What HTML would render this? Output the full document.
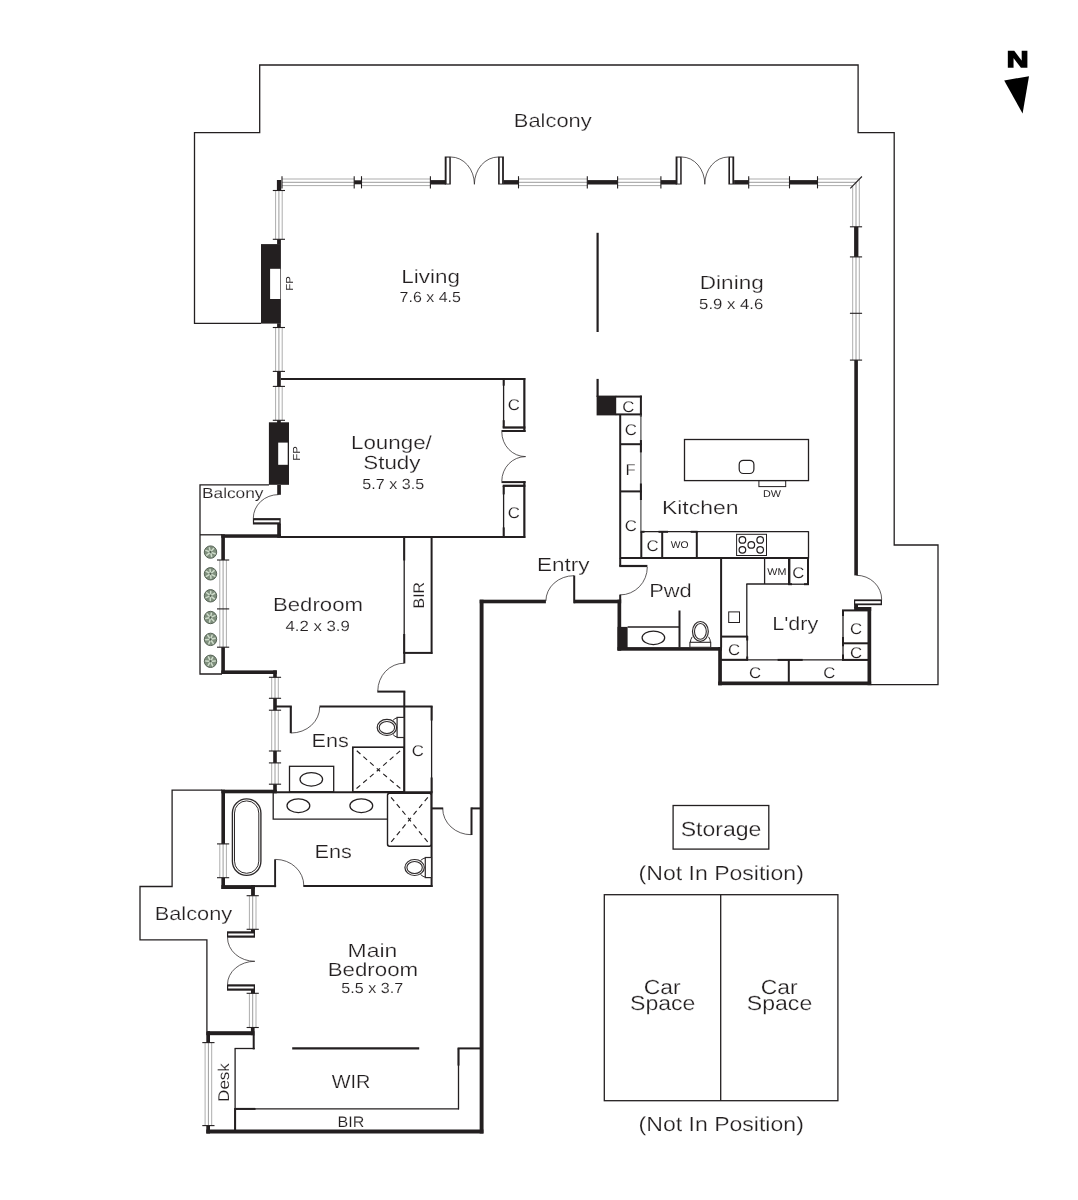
<!DOCTYPE html>
<html lang="en">
<head>
<meta charset="utf-8">
<title>Floor Plan</title>
<style>
html,body{margin:0;padding:0;background:#fff;}
body{width:1078px;height:1200px;overflow:hidden;}
svg{display:block;will-change:transform;}
svg text{font-family:"Liberation Sans",Arial,Helvetica,sans-serif;fill:#231f20;text-rendering:geometricPrecision;}
</style>
</head>
<body>
<svg width="1078" height="1200" viewBox="0 0 1078 1200">
<rect x="0" y="0" width="1078" height="1200" fill="#ffffff"/>
<polyline points="261,323.3 194.5,323.3 194.5,132.7 259.7,132.7 259.7,65 858.1,65 858.1,132.7 894.2,132.7 894.2,545 938,545 938,684.6 871,684.6" fill="none" stroke="#231f20" stroke-width="1.3" stroke-linejoin="miter"/>
<polyline points="269,484.8 200,484.8 200,674 222,674" fill="none" stroke="#231f20" stroke-width="1.3" stroke-linejoin="miter"/>
<line x1="200" y1="534.8" x2="222" y2="534.8" stroke="#231f20" stroke-width="1.3" stroke-linecap="butt"/>
<polyline points="222,790.2 172.1,790.2 172.1,886.5 140,886.5 140,939.8 206.9,939.8 206.9,1031" fill="none" stroke="#231f20" stroke-width="1.3" stroke-linejoin="miter"/>
<rect x="276.9" y="180" width="4.3" height="10.5" fill="#231f20"/>
<line x1="282" y1="179" x2="354.2" y2="179" stroke="#adadad" stroke-width="1" stroke-linecap="butt"/>
<line x1="282" y1="182.3" x2="354.2" y2="182.3" stroke="#9c9c9c" stroke-width="1" stroke-linecap="butt"/>
<line x1="282" y1="185.6" x2="354.2" y2="185.6" stroke="#adadad" stroke-width="1" stroke-linecap="butt"/>
<line x1="282" y1="176.2" x2="282" y2="188.4" stroke="#231f20" stroke-width="1.1" stroke-linecap="butt"/>
<line x1="354.2" y1="176.2" x2="354.2" y2="188.4" stroke="#231f20" stroke-width="1.1" stroke-linecap="butt"/>
<rect x="354.2" y="180.3" width="7.3" height="4" fill="#231f20"/>
<line x1="361.5" y1="179" x2="430.4" y2="179" stroke="#adadad" stroke-width="1" stroke-linecap="butt"/>
<line x1="361.5" y1="182.3" x2="430.4" y2="182.3" stroke="#9c9c9c" stroke-width="1" stroke-linecap="butt"/>
<line x1="361.5" y1="185.6" x2="430.4" y2="185.6" stroke="#adadad" stroke-width="1" stroke-linecap="butt"/>
<line x1="361.5" y1="176.2" x2="361.5" y2="188.4" stroke="#231f20" stroke-width="1.1" stroke-linecap="butt"/>
<line x1="430.4" y1="176.2" x2="430.4" y2="188.4" stroke="#231f20" stroke-width="1.1" stroke-linecap="butt"/>
<rect x="430.4" y="180.1" width="15.6" height="4.4" fill="#231f20"/>
<rect x="444.7" y="156.5" width="6.1" height="28" fill="#231f20"/>
<rect x="446.6" y="157.6" width="2.7" height="26" fill="#fff"/>
<path d="M450.8 157A23.6 27.3 0 0 1 474.4 184.3" fill="none" stroke="#2a2627" stroke-width="0.75"/>
<path d="M498.3 157A23.9 27.3 0 0 0 474.4 184.3" fill="none" stroke="#2a2627" stroke-width="0.75"/>
<rect x="498.1" y="156.5" width="5.8" height="28" fill="#231f20"/>
<rect x="499.7" y="157.6" width="2.4" height="26" fill="#fff"/>
<rect x="503.7" y="180.1" width="14.8" height="4.4" fill="#231f20"/>
<line x1="518.5" y1="179" x2="587.3" y2="179" stroke="#adadad" stroke-width="1" stroke-linecap="butt"/>
<line x1="518.5" y1="182.3" x2="587.3" y2="182.3" stroke="#9c9c9c" stroke-width="1" stroke-linecap="butt"/>
<line x1="518.5" y1="185.6" x2="587.3" y2="185.6" stroke="#adadad" stroke-width="1" stroke-linecap="butt"/>
<line x1="518.5" y1="176.2" x2="518.5" y2="188.4" stroke="#231f20" stroke-width="1.1" stroke-linecap="butt"/>
<line x1="587.3" y1="176.2" x2="587.3" y2="188.4" stroke="#231f20" stroke-width="1.1" stroke-linecap="butt"/>
<rect x="587.3" y="180.1" width="30.3" height="4.4" fill="#231f20"/>
<line x1="617.6" y1="179" x2="660.9" y2="179" stroke="#adadad" stroke-width="1" stroke-linecap="butt"/>
<line x1="617.6" y1="182.3" x2="660.9" y2="182.3" stroke="#9c9c9c" stroke-width="1" stroke-linecap="butt"/>
<line x1="617.6" y1="185.6" x2="660.9" y2="185.6" stroke="#adadad" stroke-width="1" stroke-linecap="butt"/>
<line x1="617.6" y1="176.2" x2="617.6" y2="188.4" stroke="#231f20" stroke-width="1.1" stroke-linecap="butt"/>
<line x1="660.9" y1="176.2" x2="660.9" y2="188.4" stroke="#231f20" stroke-width="1.1" stroke-linecap="butt"/>
<rect x="660.9" y="180.1" width="16.1" height="4.4" fill="#231f20"/>
<rect x="675.6" y="156.5" width="6.1" height="28" fill="#231f20"/>
<rect x="677.5" y="157.6" width="2.7" height="26" fill="#fff"/>
<path d="M681.7 157A23.1 27.3 0 0 1 704.8 184.3" fill="none" stroke="#2a2627" stroke-width="0.75"/>
<path d="M728.4 157A23.6 27.3 0 0 0 704.8 184.3" fill="none" stroke="#2a2627" stroke-width="0.75"/>
<rect x="728.4" y="156.5" width="5.8" height="28" fill="#231f20"/>
<rect x="730" y="157.6" width="2.4" height="26" fill="#fff"/>
<rect x="734.1" y="180.1" width="14.6" height="4.4" fill="#231f20"/>
<line x1="748.7" y1="179" x2="789.5" y2="179" stroke="#adadad" stroke-width="1" stroke-linecap="butt"/>
<line x1="748.7" y1="182.3" x2="789.5" y2="182.3" stroke="#9c9c9c" stroke-width="1" stroke-linecap="butt"/>
<line x1="748.7" y1="185.6" x2="789.5" y2="185.6" stroke="#adadad" stroke-width="1" stroke-linecap="butt"/>
<line x1="748.7" y1="176.2" x2="748.7" y2="188.4" stroke="#231f20" stroke-width="1.1" stroke-linecap="butt"/>
<line x1="789.5" y1="176.2" x2="789.5" y2="188.4" stroke="#231f20" stroke-width="1.1" stroke-linecap="butt"/>
<rect x="789.5" y="180.1" width="28" height="4.4" fill="#231f20"/>
<line x1="817.5" y1="179" x2="859.3" y2="179" stroke="#adadad" stroke-width="1" stroke-linecap="butt"/>
<line x1="817.5" y1="182.3" x2="856" y2="182.3" stroke="#9c9c9c" stroke-width="1" stroke-linecap="butt"/>
<line x1="817.5" y1="185.6" x2="852.7" y2="185.6" stroke="#adadad" stroke-width="1" stroke-linecap="butt"/>
<line x1="817.5" y1="176.2" x2="817.5" y2="188.4" stroke="#231f20" stroke-width="1.1" stroke-linecap="butt"/>
<line x1="859.3" y1="179" x2="859.3" y2="226.8" stroke="#adadad" stroke-width="1" stroke-linecap="butt"/>
<line x1="856" y1="182.3" x2="856" y2="226.8" stroke="#9c9c9c" stroke-width="1" stroke-linecap="butt"/>
<line x1="852.7" y1="185.6" x2="852.7" y2="226.8" stroke="#adadad" stroke-width="1" stroke-linecap="butt"/>
<line x1="850.3" y1="188.3" x2="861.9" y2="176.5" stroke="#231f20" stroke-width="1.1" stroke-linecap="butt"/>
<line x1="849.9" y1="226.8" x2="862.1" y2="226.8" stroke="#231f20" stroke-width="1.1" stroke-linecap="butt"/>
<rect x="854.1" y="226.8" width="4.3" height="30.1" fill="#231f20"/>
<line x1="852.7" y1="256.9" x2="852.7" y2="360.1" stroke="#adadad" stroke-width="1" stroke-linecap="butt"/>
<line x1="856" y1="256.9" x2="856" y2="360.1" stroke="#9c9c9c" stroke-width="1" stroke-linecap="butt"/>
<line x1="859.3" y1="256.9" x2="859.3" y2="360.1" stroke="#adadad" stroke-width="1" stroke-linecap="butt"/>
<line x1="849.9" y1="256.9" x2="862.1" y2="256.9" stroke="#231f20" stroke-width="1.1" stroke-linecap="butt"/>
<line x1="849.9" y1="360.1" x2="862.1" y2="360.1" stroke="#231f20" stroke-width="1.1" stroke-linecap="butt"/>
<line x1="849.9" y1="313.3" x2="862.1" y2="313.3" stroke="#231f20" stroke-width="1.1" stroke-linecap="butt"/>
<rect x="854.3" y="360.1" width="3.6" height="215.3" fill="#231f20"/>
<path d="M881.7 599.6A25.3 24.3 0 0 0 856.4 575.3" fill="none" stroke="#2a2627" stroke-width="0.75"/>
<rect x="854" y="599.4" width="28" height="5.8" fill="#231f20"/>
<rect x="855.2" y="601.15" width="25.5" height="2.3" fill="#fff"/>
<rect x="854.1" y="605" width="3.9" height="3" fill="#231f20"/>
<rect x="854.1" y="607" width="17.1" height="3.9" fill="#231f20"/>
<rect x="867.5" y="607" width="3.7" height="78.2" fill="#231f20"/>
<rect x="718.2" y="681.5" width="153" height="3.7" fill="#231f20"/>
<rect x="718.2" y="647.1" width="3.7" height="38.2" fill="#231f20"/>
<rect x="617.5" y="647.1" width="104.4" height="3.6" fill="#231f20"/>
<rect x="617.5" y="599.7" width="3.7" height="51" fill="#231f20"/>
<rect x="574.2" y="599.7" width="47" height="3.6" fill="#231f20"/>
<rect x="479.7" y="599.7" width="66.2" height="3.6" fill="#231f20"/>
<rect x="479.65" y="599.7" width="3.9" height="533.8" fill="#231f20"/>
<rect x="206.3" y="1129.5" width="277.1" height="4" fill="#231f20"/>
<rect x="206.3" y="1125.6" width="3.7" height="7.9" fill="#231f20"/>
<line x1="205.1" y1="1042.6" x2="205.1" y2="1125.6" stroke="#adadad" stroke-width="1" stroke-linecap="butt"/>
<line x1="208.4" y1="1042.6" x2="208.4" y2="1125.6" stroke="#9c9c9c" stroke-width="1" stroke-linecap="butt"/>
<line x1="211.7" y1="1042.6" x2="211.7" y2="1125.6" stroke="#adadad" stroke-width="1" stroke-linecap="butt"/>
<line x1="202.3" y1="1042.6" x2="214.5" y2="1042.6" stroke="#231f20" stroke-width="1.1" stroke-linecap="butt"/>
<line x1="202.3" y1="1125.6" x2="214.5" y2="1125.6" stroke="#231f20" stroke-width="1.1" stroke-linecap="butt"/>
<rect x="206.3" y="1031.2" width="3.7" height="11.4" fill="#231f20"/>
<rect x="206.3" y="1031.2" width="48.2" height="4" fill="#231f20"/>
<rect x="250.9" y="1027.5" width="3.7" height="7.7" fill="#231f20"/>
<line x1="249.4" y1="993.3" x2="249.4" y2="1027.5" stroke="#adadad" stroke-width="1" stroke-linecap="butt"/>
<line x1="252.7" y1="993.3" x2="252.7" y2="1027.5" stroke="#9c9c9c" stroke-width="1" stroke-linecap="butt"/>
<line x1="256" y1="993.3" x2="256" y2="1027.5" stroke="#adadad" stroke-width="1" stroke-linecap="butt"/>
<line x1="246.6" y1="993.3" x2="258.8" y2="993.3" stroke="#231f20" stroke-width="1.1" stroke-linecap="butt"/>
<line x1="246.6" y1="1027.5" x2="258.8" y2="1027.5" stroke="#231f20" stroke-width="1.1" stroke-linecap="butt"/>
<rect x="251" y="989" width="4" height="4.4" fill="#231f20"/>
<rect x="227" y="984.3" width="28" height="6.4" fill="#231f20"/>
<rect x="228.2" y="986.5" width="25.5" height="2" fill="#fff"/>
<path d="M227.5 984.5A27.3 23.2 0 0 1 254.8 961.3" fill="none" stroke="#2a2627" stroke-width="0.75"/>
<path d="M227.5 937.5A27.3 23.8 0 0 0 254.8 961.3" fill="none" stroke="#2a2627" stroke-width="0.75"/>
<rect x="227" y="931.3" width="28" height="6.4" fill="#231f20"/>
<rect x="228.2" y="933.5" width="25.5" height="2" fill="#fff"/>
<rect x="251" y="929.3" width="4" height="3.2" fill="#231f20"/>
<line x1="249.4" y1="895.7" x2="249.4" y2="929.3" stroke="#adadad" stroke-width="1" stroke-linecap="butt"/>
<line x1="252.7" y1="895.7" x2="252.7" y2="929.3" stroke="#9c9c9c" stroke-width="1" stroke-linecap="butt"/>
<line x1="256" y1="895.7" x2="256" y2="929.3" stroke="#adadad" stroke-width="1" stroke-linecap="butt"/>
<line x1="246.6" y1="895.7" x2="258.8" y2="895.7" stroke="#231f20" stroke-width="1.1" stroke-linecap="butt"/>
<line x1="246.6" y1="929.3" x2="258.8" y2="929.3" stroke="#231f20" stroke-width="1.1" stroke-linecap="butt"/>
<rect x="251.1" y="885.1" width="3.8" height="10.7" fill="#231f20"/>
<rect x="221.4" y="885.1" width="33.5" height="3.9" fill="#231f20"/>
<line x1="254" y1="886.1" x2="276.1" y2="886.1" stroke="#231f20" stroke-width="2" stroke-linecap="butt"/>
<rect x="221.4" y="877.8" width="3.6" height="11.2" fill="#231f20"/>
<line x1="219.8" y1="843.9" x2="219.8" y2="877.7" stroke="#adadad" stroke-width="1" stroke-linecap="butt"/>
<line x1="223.1" y1="843.9" x2="223.1" y2="877.7" stroke="#9c9c9c" stroke-width="1" stroke-linecap="butt"/>
<line x1="226.4" y1="843.9" x2="226.4" y2="877.7" stroke="#adadad" stroke-width="1" stroke-linecap="butt"/>
<line x1="217" y1="843.9" x2="229.2" y2="843.9" stroke="#231f20" stroke-width="1.1" stroke-linecap="butt"/>
<line x1="217" y1="877.7" x2="229.2" y2="877.7" stroke="#231f20" stroke-width="1.1" stroke-linecap="butt"/>
<rect x="221.4" y="789.7" width="3.6" height="54.2" fill="#231f20"/>
<rect x="221.4" y="789.7" width="55.4" height="3.6" fill="#231f20"/>
<rect x="273.2" y="784.2" width="3.6" height="9.1" fill="#231f20"/>
<line x1="271.7" y1="762.9" x2="271.7" y2="784.2" stroke="#adadad" stroke-width="1" stroke-linecap="butt"/>
<line x1="275" y1="762.9" x2="275" y2="784.2" stroke="#9c9c9c" stroke-width="1" stroke-linecap="butt"/>
<line x1="278.3" y1="762.9" x2="278.3" y2="784.2" stroke="#adadad" stroke-width="1" stroke-linecap="butt"/>
<line x1="268.9" y1="762.9" x2="281.1" y2="762.9" stroke="#231f20" stroke-width="1.1" stroke-linecap="butt"/>
<line x1="268.9" y1="784.2" x2="281.1" y2="784.2" stroke="#231f20" stroke-width="1.1" stroke-linecap="butt"/>
<rect x="273.2" y="751" width="3.6" height="11.9" fill="#231f20"/>
<line x1="271.7" y1="710.2" x2="271.7" y2="751" stroke="#adadad" stroke-width="1" stroke-linecap="butt"/>
<line x1="275" y1="710.2" x2="275" y2="751" stroke="#9c9c9c" stroke-width="1" stroke-linecap="butt"/>
<line x1="278.3" y1="710.2" x2="278.3" y2="751" stroke="#adadad" stroke-width="1" stroke-linecap="butt"/>
<line x1="268.9" y1="710.2" x2="281.1" y2="710.2" stroke="#231f20" stroke-width="1.1" stroke-linecap="butt"/>
<line x1="268.9" y1="751" x2="281.1" y2="751" stroke="#231f20" stroke-width="1.1" stroke-linecap="butt"/>
<rect x="273.2" y="698.3" width="3.6" height="11.9" fill="#231f20"/>
<line x1="271.7" y1="677.3" x2="271.7" y2="698.3" stroke="#adadad" stroke-width="1" stroke-linecap="butt"/>
<line x1="275" y1="677.3" x2="275" y2="698.3" stroke="#9c9c9c" stroke-width="1" stroke-linecap="butt"/>
<line x1="278.3" y1="677.3" x2="278.3" y2="698.3" stroke="#adadad" stroke-width="1" stroke-linecap="butt"/>
<line x1="268.9" y1="677.3" x2="281.1" y2="677.3" stroke="#231f20" stroke-width="1.1" stroke-linecap="butt"/>
<line x1="268.9" y1="698.3" x2="281.1" y2="698.3" stroke="#231f20" stroke-width="1.1" stroke-linecap="butt"/>
<rect x="273.2" y="670.4" width="3.6" height="6.9" fill="#231f20"/>
<rect x="221.3" y="670.4" width="55.5" height="3.6" fill="#231f20"/>
<rect x="221.3" y="647.2" width="3.6" height="26.8" fill="#231f20"/>
<line x1="219.8" y1="560" x2="219.8" y2="647.2" stroke="#adadad" stroke-width="1" stroke-linecap="butt"/>
<line x1="223.1" y1="560" x2="223.1" y2="647.2" stroke="#9c9c9c" stroke-width="1" stroke-linecap="butt"/>
<line x1="226.4" y1="560" x2="226.4" y2="647.2" stroke="#adadad" stroke-width="1" stroke-linecap="butt"/>
<line x1="217" y1="560" x2="229.2" y2="560" stroke="#231f20" stroke-width="1.1" stroke-linecap="butt"/>
<line x1="217" y1="647.2" x2="229.2" y2="647.2" stroke="#231f20" stroke-width="1.1" stroke-linecap="butt"/>
<line x1="217" y1="608.9" x2="229.2" y2="608.9" stroke="#231f20" stroke-width="1.1" stroke-linecap="butt"/>
<rect x="221.3" y="534.3" width="3.6" height="25.7" fill="#231f20"/>
<rect x="221.3" y="534.3" width="59.7" height="3.5" fill="#231f20"/>
<rect x="277.2" y="523.6" width="3.7" height="14.2" fill="#231f20"/>
<rect x="252.9" y="518.1" width="27.8" height="6.4" fill="#231f20"/>
<rect x="254.1" y="520.3" width="25.3" height="2" fill="#fff"/>
<path d="M253.3 518.2A25.3 23.6 0 0 1 278.6 494.6" fill="none" stroke="#2a2627" stroke-width="0.75"/>
<rect x="277.2" y="484.8" width="3.7" height="10" fill="#231f20"/>
<rect x="268.9" y="422.3" width="20.1" height="62.5" fill="#231f20"/>
<rect x="278.2" y="442.6" width="9.5" height="22.2" fill="#fff"/>
<rect x="277.1" y="420.3" width="3.7" height="2.7" fill="#231f20"/>
<line x1="275.6" y1="386.4" x2="275.6" y2="420.3" stroke="#adadad" stroke-width="1" stroke-linecap="butt"/>
<line x1="278.9" y1="386.4" x2="278.9" y2="420.3" stroke="#9c9c9c" stroke-width="1" stroke-linecap="butt"/>
<line x1="282.2" y1="386.4" x2="282.2" y2="420.3" stroke="#adadad" stroke-width="1" stroke-linecap="butt"/>
<line x1="272.8" y1="386.4" x2="285" y2="386.4" stroke="#231f20" stroke-width="1.1" stroke-linecap="butt"/>
<line x1="272.8" y1="420.3" x2="285" y2="420.3" stroke="#231f20" stroke-width="1.1" stroke-linecap="butt"/>
<rect x="277.1" y="371.4" width="3.7" height="15" fill="#231f20"/>
<line x1="275.6" y1="327.5" x2="275.6" y2="371.4" stroke="#adadad" stroke-width="1" stroke-linecap="butt"/>
<line x1="278.9" y1="327.5" x2="278.9" y2="371.4" stroke="#9c9c9c" stroke-width="1" stroke-linecap="butt"/>
<line x1="282.2" y1="327.5" x2="282.2" y2="371.4" stroke="#adadad" stroke-width="1" stroke-linecap="butt"/>
<line x1="272.8" y1="327.5" x2="285" y2="327.5" stroke="#231f20" stroke-width="1.1" stroke-linecap="butt"/>
<line x1="272.8" y1="371.4" x2="285" y2="371.4" stroke="#231f20" stroke-width="1.1" stroke-linecap="butt"/>
<rect x="277.1" y="323.3" width="3.7" height="4.2" fill="#231f20"/>
<rect x="261" y="244.1" width="19.9" height="79.5" fill="#231f20"/>
<rect x="270.1" y="268.8" width="10.2" height="30.2" fill="#fff"/>
<rect x="277.1" y="239.3" width="3.8" height="5.2" fill="#231f20"/>
<line x1="275.6" y1="190.5" x2="275.6" y2="239.3" stroke="#adadad" stroke-width="1" stroke-linecap="butt"/>
<line x1="278.9" y1="190.5" x2="278.9" y2="239.3" stroke="#9c9c9c" stroke-width="1" stroke-linecap="butt"/>
<line x1="282.2" y1="190.5" x2="282.2" y2="239.3" stroke="#adadad" stroke-width="1" stroke-linecap="butt"/>
<line x1="272.8" y1="190.5" x2="285" y2="190.5" stroke="#231f20" stroke-width="1.1" stroke-linecap="butt"/>
<line x1="272.8" y1="239.3" x2="285" y2="239.3" stroke="#231f20" stroke-width="1.1" stroke-linecap="butt"/>
<line x1="597.6" y1="232.8" x2="597.6" y2="332" stroke="#231f20" stroke-width="2.2" stroke-linecap="butt"/>
<line x1="597.6" y1="378.9" x2="597.6" y2="397" stroke="#231f20" stroke-width="2.2" stroke-linecap="butt"/>
<rect x="596.6" y="395.6" width="19.6" height="19.8" fill="#231f20"/>
<line x1="280.8" y1="378.9" x2="525.3" y2="378.9" stroke="#231f20" stroke-width="2" stroke-linecap="butt"/>
<line x1="280.8" y1="536.9" x2="525.3" y2="536.9" stroke="#231f20" stroke-width="2" stroke-linecap="butt"/>
<line x1="524.35" y1="378" x2="524.35" y2="432" stroke="#231f20" stroke-width="2.2" stroke-linecap="butt"/>
<line x1="503.6" y1="378.9" x2="503.6" y2="427.5" stroke="#231f20" stroke-width="1.3" stroke-linecap="butt"/>
<line x1="503.7" y1="378.9" x2="503.7" y2="385.7" stroke="#231f20" stroke-width="2" stroke-linecap="butt"/>
<line x1="503.7" y1="420.2" x2="503.7" y2="427.7" stroke="#231f20" stroke-width="2" stroke-linecap="butt"/>
<line x1="502.7" y1="427.5" x2="525.4" y2="427.5" stroke="#231f20" stroke-width="2.3" stroke-linecap="butt"/>
<line x1="501.5" y1="431" x2="525.6" y2="431" stroke="#231f20" stroke-width="2" stroke-linecap="butt"/>
<path d="M501.8 431.9A23.8 24.7 0 0 0 525.6 456.6" fill="none" stroke="#2a2627" stroke-width="0.75"/>
<path d="M501.8 481.2A23.8 24.6 0 0 1 525.6 456.6" fill="none" stroke="#2a2627" stroke-width="0.75"/>
<line x1="501.5" y1="482.1" x2="525.6" y2="482.1" stroke="#231f20" stroke-width="2" stroke-linecap="butt"/>
<line x1="502.7" y1="485.8" x2="525.4" y2="485.8" stroke="#231f20" stroke-width="2.3" stroke-linecap="butt"/>
<line x1="524.35" y1="481.1" x2="524.35" y2="537.9" stroke="#231f20" stroke-width="2.2" stroke-linecap="butt"/>
<line x1="503.6" y1="485.8" x2="503.6" y2="537" stroke="#231f20" stroke-width="1.3" stroke-linecap="butt"/>
<line x1="503.7" y1="485.8" x2="503.7" y2="494.4" stroke="#231f20" stroke-width="2" stroke-linecap="butt"/>
<line x1="503.7" y1="527.4" x2="503.7" y2="537" stroke="#231f20" stroke-width="2" stroke-linecap="butt"/>
<line x1="404.2" y1="536.9" x2="404.2" y2="653" stroke="#231f20" stroke-width="1.3" stroke-linecap="butt"/>
<line x1="404.2" y1="536.9" x2="404.2" y2="560.5" stroke="#231f20" stroke-width="2" stroke-linecap="butt"/>
<line x1="404.2" y1="634" x2="404.2" y2="653" stroke="#231f20" stroke-width="2" stroke-linecap="butt"/>
<line x1="431.6" y1="536" x2="431.6" y2="653.9" stroke="#231f20" stroke-width="2" stroke-linecap="butt"/>
<line x1="403.2" y1="652.9" x2="432.4" y2="652.9" stroke="#231f20" stroke-width="2" stroke-linecap="butt"/>
<line x1="404.3" y1="652.9" x2="404.3" y2="663.4" stroke="#231f20" stroke-width="2" stroke-linecap="butt"/>
<path d="M377.8 691A26.5 27.8 0 0 1 404.3 663.2" fill="none" stroke="#2a2627" stroke-width="0.75"/>
<line x1="377.3" y1="691.6" x2="405.3" y2="691.6" stroke="#231f20" stroke-width="2" stroke-linecap="butt"/>
<line x1="404.3" y1="691.6" x2="404.3" y2="792.3" stroke="#231f20" stroke-width="2" stroke-linecap="butt"/>
<line x1="275" y1="706.5" x2="291.8" y2="706.5" stroke="#231f20" stroke-width="2" stroke-linecap="butt"/>
<line x1="290.8" y1="706.5" x2="290.8" y2="733.2" stroke="#231f20" stroke-width="2.1" stroke-linecap="butt"/>
<path d="M291.2 733A28.5 26 0 0 0 319.7 707" fill="none" stroke="#2a2627" stroke-width="0.75"/>
<line x1="319.5" y1="706.5" x2="432.6" y2="706.5" stroke="#231f20" stroke-width="2" stroke-linecap="butt"/>
<line x1="431.6" y1="706.3" x2="431.6" y2="792.3" stroke="#231f20" stroke-width="1.3" stroke-linecap="butt"/>
<line x1="431.6" y1="706.3" x2="431.6" y2="720.5" stroke="#231f20" stroke-width="2" stroke-linecap="butt"/>
<line x1="431.6" y1="777.5" x2="431.6" y2="792.3" stroke="#231f20" stroke-width="2" stroke-linecap="butt"/>
<line x1="276.8" y1="792.3" x2="432.6" y2="792.3" stroke="#231f20" stroke-width="2" stroke-linecap="butt"/>
<line x1="431.6" y1="792.3" x2="431.6" y2="887" stroke="#231f20" stroke-width="2" stroke-linecap="butt"/>
<line x1="303.3" y1="886.1" x2="432.6" y2="886.1" stroke="#231f20" stroke-width="2" stroke-linecap="butt"/>
<line x1="275.1" y1="859.3" x2="275.1" y2="887.1" stroke="#231f20" stroke-width="1.9" stroke-linecap="butt"/>
<path d="M275.6 859.4A28.2 26.2 0 0 1 303.8 885.6" fill="none" stroke="#2a2627" stroke-width="0.75"/>
<line x1="431.6" y1="808.4" x2="443.2" y2="808.4" stroke="#231f20" stroke-width="2" stroke-linecap="butt"/>
<path d="M471.2 834.7A28.5 26.3 0 0 1 442.7 808.4" fill="none" stroke="#2a2627" stroke-width="0.75"/>
<line x1="471.5" y1="807.4" x2="471.5" y2="835" stroke="#231f20" stroke-width="2" stroke-linecap="butt"/>
<line x1="471.5" y1="808.4" x2="480" y2="808.4" stroke="#231f20" stroke-width="2" stroke-linecap="butt"/>
<line x1="292.2" y1="1048.4" x2="419.2" y2="1048.4" stroke="#231f20" stroke-width="2.2" stroke-linecap="butt"/>
<line x1="457.6" y1="1048.4" x2="480" y2="1048.4" stroke="#231f20" stroke-width="2" stroke-linecap="butt"/>
<line x1="458.5" y1="1048.4" x2="458.5" y2="1109.4" stroke="#231f20" stroke-width="1.3" stroke-linecap="butt"/>
<line x1="458.5" y1="1048.4" x2="458.5" y2="1065.6" stroke="#231f20" stroke-width="2" stroke-linecap="butt"/>
<line x1="235.1" y1="1108.9" x2="459" y2="1108.9" stroke="#231f20" stroke-width="1.3" stroke-linecap="butt"/>
<line x1="235.1" y1="1108.9" x2="255.5" y2="1108.9" stroke="#231f20" stroke-width="2" stroke-linecap="butt"/>
<line x1="253.7" y1="1035" x2="253.7" y2="1049.4" stroke="#231f20" stroke-width="2" stroke-linecap="butt"/>
<line x1="234.6" y1="1048.5" x2="254.7" y2="1048.5" stroke="#231f20" stroke-width="1.3" stroke-linecap="butt"/>
<line x1="235.1" y1="1048.5" x2="235.1" y2="1130" stroke="#231f20" stroke-width="1.3" stroke-linecap="butt"/>
<line x1="235.1" y1="1108" x2="235.1" y2="1130" stroke="#231f20" stroke-width="2" stroke-linecap="butt"/>
<line x1="615.8" y1="396.6" x2="641.9" y2="396.6" stroke="#231f20" stroke-width="2" stroke-linecap="butt"/>
<line x1="640.9" y1="395.6" x2="640.9" y2="416.7" stroke="#231f20" stroke-width="2" stroke-linecap="butt"/>
<line x1="615.8" y1="414.4" x2="641.9" y2="414.4" stroke="#231f20" stroke-width="2" stroke-linecap="butt"/>
<line x1="620.2" y1="414.4" x2="620.2" y2="558.5" stroke="#231f20" stroke-width="2" stroke-linecap="butt"/>
<line x1="620" y1="444.2" x2="641.9" y2="444.2" stroke="#231f20" stroke-width="2" stroke-linecap="butt"/>
<line x1="620" y1="491.4" x2="641.9" y2="491.4" stroke="#231f20" stroke-width="2" stroke-linecap="butt"/>
<line x1="640.9" y1="414.7" x2="640.9" y2="531.7" stroke="#555" stroke-width="1.3" stroke-linecap="butt"/>
<line x1="640.9" y1="440" x2="640.9" y2="452.4" stroke="#231f20" stroke-width="2" stroke-linecap="butt"/>
<line x1="640.9" y1="483.5" x2="640.9" y2="500" stroke="#231f20" stroke-width="2" stroke-linecap="butt"/>
<line x1="641" y1="531.7" x2="808.5" y2="531.7" stroke="#231f20" stroke-width="1.3" stroke-linecap="butt"/>
<line x1="808.5" y1="531.2" x2="808.5" y2="558.5" stroke="#231f20" stroke-width="1.3" stroke-linecap="butt"/>
<line x1="620" y1="558.1" x2="809" y2="558.1" stroke="#231f20" stroke-width="2" stroke-linecap="butt"/>
<line x1="641.3" y1="531.7" x2="641.3" y2="558.1" stroke="#231f20" stroke-width="2" stroke-linecap="butt"/>
<line x1="662.2" y1="531.7" x2="662.2" y2="558.1" stroke="#231f20" stroke-width="2" stroke-linecap="butt"/>
<line x1="696.8" y1="531.7" x2="696.8" y2="558.1" stroke="#231f20" stroke-width="2" stroke-linecap="butt"/>
<line x1="640.5" y1="531.8" x2="644.5" y2="531.8" stroke="#231f20" stroke-width="2" stroke-linecap="butt"/>
<line x1="658.5" y1="531.8" x2="668" y2="531.8" stroke="#231f20" stroke-width="2" stroke-linecap="butt"/>
<line x1="690.7" y1="531.8" x2="697.6" y2="531.8" stroke="#231f20" stroke-width="2" stroke-linecap="butt"/>
<rect x="736.6" y="534.3" width="29.9" height="21.2" fill="#fff" stroke="#231f20" stroke-width="1"/>
<ellipse cx="742.4" cy="539.9" rx="3.3" ry="3.3" fill="none" stroke="#231f20" stroke-width="1.25"/>
<ellipse cx="760.2" cy="539.9" rx="3.3" ry="3.3" fill="none" stroke="#231f20" stroke-width="1.25"/>
<ellipse cx="751.3" cy="544.9" rx="3.3" ry="3.3" fill="none" stroke="#231f20" stroke-width="1.25"/>
<ellipse cx="742.4" cy="549.8" rx="3.3" ry="3.3" fill="none" stroke="#231f20" stroke-width="1.25"/>
<ellipse cx="760.2" cy="549.8" rx="3.3" ry="3.3" fill="none" stroke="#231f20" stroke-width="1.25"/>
<rect x="684.5" y="439.5" width="124" height="41.1" fill="none" stroke="#231f20" stroke-width="1.3"/>
<rect x="739.2" y="460.3" width="14.7" height="13.2" fill="none" stroke="#231f20" stroke-width="1.2" rx="4.2"/>
<rect x="758.9" y="480.6" width="26.8" height="6" fill="none" stroke="#231f20" stroke-width="1"/>
<line x1="620.2" y1="558" x2="620.2" y2="566" stroke="#231f20" stroke-width="2" stroke-linecap="butt"/>
<line x1="619.2" y1="566" x2="647.4" y2="566" stroke="#231f20" stroke-width="2.2" stroke-linecap="butt"/>
<path d="M647.3 567A27.1 27.9 0 0 1 620.2 594.9" fill="none" stroke="#2a2627" stroke-width="0.75"/>
<line x1="620.2" y1="594.6" x2="620.2" y2="600" stroke="#231f20" stroke-width="2" stroke-linecap="butt"/>
<rect x="617.5" y="626.9" width="10.1" height="23.1" fill="#231f20"/>
<line x1="627.6" y1="627.1" x2="679" y2="627.1" stroke="#231f20" stroke-width="1.5" stroke-linecap="butt"/>
<ellipse cx="653.4" cy="637.8" rx="11.3" ry="6.7" fill="none" stroke="#231f20" stroke-width="1.25"/>
<line x1="679.5" y1="610.5" x2="679.5" y2="647.5" stroke="#231f20" stroke-width="2" stroke-linecap="butt"/>
<line x1="721.1" y1="558" x2="721.1" y2="647.5" stroke="#231f20" stroke-width="2" stroke-linecap="butt"/>
<path d="M692.2 636.8Q690.2 640 690.4 642.3M708.6 636.8Q710.6 640 710.4 642.3" fill="none" stroke="#2e2a2b" stroke-width="1"/>
<rect x="689.9" y="642.3" width="20.8" height="5" fill="#fff" stroke="#2e2a2b" stroke-width="1.1"/>
<ellipse cx="700.4" cy="631.4" rx="7.9" ry="9.9" fill="#fff" stroke="#2e2a2b" stroke-width="1.2"/>
<ellipse cx="700.4" cy="631.4" rx="5.9" ry="7.9" fill="none" stroke="#2e2a2b" stroke-width="1.1"/>
<line x1="764.6" y1="558" x2="764.6" y2="584" stroke="#231f20" stroke-width="1.3" stroke-linecap="butt"/>
<line x1="746.3" y1="584" x2="789" y2="584" stroke="#231f20" stroke-width="1.3" stroke-linecap="butt"/>
<line x1="746.8" y1="584" x2="746.8" y2="637" stroke="#231f20" stroke-width="1.3" stroke-linecap="butt"/>
<rect x="728.7" y="611.9" width="10.8" height="10.6" fill="none" stroke="#231f20" stroke-width="1"/>
<line x1="721" y1="636.6" x2="748" y2="636.6" stroke="#231f20" stroke-width="2" stroke-linecap="butt"/>
<line x1="747.2" y1="636.6" x2="747.2" y2="660" stroke="#231f20" stroke-width="1.3" stroke-linecap="butt"/>
<line x1="747.2" y1="636" x2="747.2" y2="640.5" stroke="#231f20" stroke-width="2" stroke-linecap="butt"/>
<line x1="747.2" y1="656.5" x2="747.2" y2="660.5" stroke="#231f20" stroke-width="2" stroke-linecap="butt"/>
<line x1="721" y1="659.8" x2="748" y2="659.8" stroke="#231f20" stroke-width="2" stroke-linecap="butt"/>
<line x1="789.2" y1="558" x2="789.2" y2="585" stroke="#231f20" stroke-width="2.4" stroke-linecap="butt"/>
<line x1="788.2" y1="584.2" x2="808.9" y2="584.2" stroke="#231f20" stroke-width="1.3" stroke-linecap="butt"/>
<line x1="788.2" y1="584.2" x2="792" y2="584.2" stroke="#231f20" stroke-width="2" stroke-linecap="butt"/>
<line x1="804" y1="584.2" x2="808.9" y2="584.2" stroke="#231f20" stroke-width="2" stroke-linecap="butt"/>
<line x1="808" y1="558" x2="808" y2="585" stroke="#231f20" stroke-width="2" stroke-linecap="butt"/>
<line x1="721" y1="659.9" x2="868" y2="659.9" stroke="#231f20" stroke-width="1.3" stroke-linecap="butt"/>
<line x1="777.6" y1="659.9" x2="802.7" y2="659.9" stroke="#231f20" stroke-width="2" stroke-linecap="butt"/>
<line x1="788.8" y1="659.9" x2="788.8" y2="682" stroke="#231f20" stroke-width="2" stroke-linecap="butt"/>
<line x1="843" y1="610.4" x2="843" y2="660.3" stroke="#231f20" stroke-width="1.3" stroke-linecap="butt"/>
<line x1="843" y1="610.4" x2="843" y2="616" stroke="#231f20" stroke-width="2" stroke-linecap="butt"/>
<line x1="843" y1="637" x2="843" y2="646.3" stroke="#231f20" stroke-width="2" stroke-linecap="butt"/>
<line x1="843" y1="654.5" x2="843" y2="660.3" stroke="#231f20" stroke-width="2" stroke-linecap="butt"/>
<line x1="842" y1="610.4" x2="868" y2="610.4" stroke="#231f20" stroke-width="2" stroke-linecap="butt"/>
<line x1="842" y1="643.3" x2="868" y2="643.3" stroke="#231f20" stroke-width="2" stroke-linecap="butt"/>
<line x1="842" y1="659.9" x2="868" y2="659.9" stroke="#231f20" stroke-width="2" stroke-linecap="butt"/>
<line x1="574.2" y1="575.5" x2="574.2" y2="603.3" stroke="#231f20" stroke-width="2" stroke-linecap="butt"/>
<path d="M574 575.7A28.1 25.3 0 0 0 545.9 601" fill="none" stroke="#2a2627" stroke-width="0.75"/>
<circle cx="210.5" cy="552.1" r="6.2" fill="#7f8f7d" stroke="#566355" stroke-width="1"/>
<path d="M212 552.65L215.1 553.78M211.02 554.03L211.69 556.54M209.35 553.06L206.82 555.19M208.81 551.48L205.9 550.42M209.98 550.17L209.36 547.85M211.53 550.87L213.59 548.42" stroke="#cfdccb" stroke-width="1.5" stroke-linecap="round" fill="none"/>
<circle cx="210.5" cy="552.1" r="1" fill="#4f5b4e"/>
<circle cx="210.5" cy="573.8" r="6.2" fill="#7f8f7d" stroke="#566355" stroke-width="1"/>
<path d="M211.9 574.58L214.79 576.18M210.71 575.79L210.98 578.37M209.21 574.57L206.39 576.27M208.93 572.93L206.21 571.42M210.29 571.81L210.04 569.42M211.71 572.75L214.12 570.65" stroke="#cfdccb" stroke-width="1.5" stroke-linecap="round" fill="none"/>
<circle cx="210.5" cy="573.8" r="1" fill="#4f5b4e"/>
<circle cx="210.5" cy="595.8" r="6.2" fill="#7f8f7d" stroke="#566355" stroke-width="1"/>
<path d="M211.76 596.79L214.36 598.82M210.4 597.8L210.26 600.39M209.11 596.36L206.05 597.6M209.08 594.69L206.64 592.78M210.6 593.8L210.73 591.41M211.86 594.95L214.57 593.26" stroke="#cfdccb" stroke-width="1.5" stroke-linecap="round" fill="none"/>
<circle cx="210.5" cy="595.8" r="1" fill="#4f5b4e"/>
<circle cx="210.5" cy="617.5" r="6.2" fill="#7f8f7d" stroke="#566355" stroke-width="1"/>
<path d="M211.59 618.67L213.84 621.08M210.08 619.46L209.54 622M209.04 617.84L205.82 618.58M209.27 616.18L207.16 613.92M210.92 615.54L211.41 613.2M211.97 616.87L214.92 615.62" stroke="#cfdccb" stroke-width="1.5" stroke-linecap="round" fill="none"/>
<circle cx="210.5" cy="617.5" r="1" fill="#4f5b4e"/>
<circle cx="210.5" cy="639.4" r="6.2" fill="#7f8f7d" stroke="#566355" stroke-width="1"/>
<path d="M211.39 640.73L213.24 643.46M209.78 641.27L208.85 643.69M209 639.5L205.71 639.73M209.49 637.91L207.76 635.34M211.22 637.53L212.08 635.29M212.05 639.01L215.16 638.24" stroke="#cfdccb" stroke-width="1.5" stroke-linecap="round" fill="none"/>
<circle cx="210.5" cy="639.4" r="1" fill="#4f5b4e"/>
<circle cx="210.5" cy="661.3" r="6.2" fill="#7f8f7d" stroke="#566355" stroke-width="1"/>
<path d="M211.18 662.75L212.57 665.74M209.5 663.03L208.2 665.28M209.01 661.17L205.72 660.88M209.74 659.67L208.43 656.86M211.5 659.57L212.7 657.49M212.09 661.16L215.28 660.88" stroke="#cfdccb" stroke-width="1.5" stroke-linecap="round" fill="none"/>
<circle cx="210.5" cy="661.3" r="1" fill="#4f5b4e"/>
<path d="M392.82 720.48Q395.1 718 397.1 717.9M392.82 734.42Q395.1 736.9 397.1 737" fill="none" stroke="#2e2a2b" stroke-width="1"/>
<rect x="397.1" y="717.4" width="6.9" height="20.1" fill="#fff" stroke="#2e2a2b" stroke-width="1.2"/>
<ellipse cx="386.9" cy="727.45" rx="9.7" ry="8" fill="#fff" stroke="#2e2a2b" stroke-width="1.2"/>
<ellipse cx="386.9" cy="727.45" rx="7.7" ry="6" fill="none" stroke="#2e2a2b" stroke-width="1.1"/>
<path d="M420.52 860.53Q423.3 858.1 425.3 858M420.52 874.47Q423.3 877 425.3 877.1" fill="none" stroke="#2e2a2b" stroke-width="1"/>
<rect x="425.3" y="857.5" width="6.2" height="20.1" fill="#fff" stroke="#2e2a2b" stroke-width="1.2"/>
<ellipse cx="414.6" cy="867.5" rx="9.7" ry="8" fill="#fff" stroke="#2e2a2b" stroke-width="1.2"/>
<ellipse cx="414.6" cy="867.5" rx="7.7" ry="6" fill="none" stroke="#2e2a2b" stroke-width="1.1"/>
<rect x="352.8" y="747.2" width="51.4" height="44.6" fill="none" stroke="#231f20" stroke-width="1.6"/>
<path d="M378.4 769.8L353.6 748M378.4 769.8L403.4 748M378.4 769.8L353.6 791M378.4 769.8L403.4 791" fill="none" stroke="#231f20" stroke-width="1.15" stroke-dasharray="2.2 4.1 4.9 3.9 4.9 3.9 4.9 3.9 4.9 3.9"/>
<rect x="387.5" y="793.3" width="43.8" height="53" fill="none" stroke="#231f20" stroke-width="1.4" rx="2"/>
<path d="M409.5 819.6L388.3 794.1M409.5 819.6L430.5 794.1M409.5 819.6L388.3 845.5M409.5 819.6L430.5 845.5" fill="none" stroke="#231f20" stroke-width="1.15" stroke-dasharray="2.2 4.1 4.9 3.9 4.9 3.9 4.9 3.9 4.9 3.9"/>
<rect x="289.5" y="766.3" width="44.2" height="25.5" fill="none" stroke="#231f20" stroke-width="1.3"/>
<ellipse cx="311.3" cy="779.3" rx="11.3" ry="6.7" fill="none" stroke="#231f20" stroke-width="1.25"/>
<polyline points="273.2,793 273.2,819.2 387.5,819.2" fill="none" stroke="#231f20" stroke-width="1.3" stroke-linejoin="miter"/>
<ellipse cx="298.4" cy="805.7" rx="11.4" ry="6.8" fill="none" stroke="#231f20" stroke-width="1.25"/>
<ellipse cx="361.3" cy="805.7" rx="11.4" ry="6.8" fill="none" stroke="#231f20" stroke-width="1.25"/>
<rect x="232.4" y="798.8" width="28.5" height="76.6" fill="none" stroke="#2e2a2b" stroke-width="1.35" rx="14.25"/>
<rect x="234.5" y="800.9" width="24.3" height="72.4" fill="none" stroke="#2e2a2b" stroke-width="1" rx="12.15"/>
<rect x="673.1" y="805.5" width="95.7" height="43.6" fill="none" stroke="#231f20" stroke-width="1.3"/>
<rect x="604.3" y="894.7" width="233.6" height="206" fill="none" stroke="#231f20" stroke-width="1.3"/>
<line x1="720.7" y1="894.7" x2="720.7" y2="1100.7" stroke="#231f20" stroke-width="1.3" stroke-linecap="butt"/>
<polygon points="1004.2,80.4 1029,76.3 1022.6,113.5" fill="#000"/>
<text x="513.8" y="127" font-size="19" textLength="77.94" lengthAdjust="spacingAndGlyphs" stroke="#fff" stroke-width="0.22">Balcony</text>
<text x="401.36" y="283" font-size="19" textLength="58.58" lengthAdjust="spacingAndGlyphs" stroke="#fff" stroke-width="0.22">Living</text>
<text x="399.58" y="302" font-size="14.6" textLength="61.29" lengthAdjust="spacingAndGlyphs" stroke="#fff" stroke-width="0.12">7.6 x 4.5</text>
<text x="699.85" y="289" font-size="19" textLength="63.9" lengthAdjust="spacingAndGlyphs" stroke="#fff" stroke-width="0.22">Dining</text>
<text x="699.13" y="309" font-size="14.6" textLength="64.1" lengthAdjust="spacingAndGlyphs" stroke="#fff" stroke-width="0.12">5.9 x 4.6</text>
<text x="350.97" y="449" font-size="19" textLength="80.83" lengthAdjust="spacingAndGlyphs" stroke="#fff" stroke-width="0.22">Lounge/</text>
<text x="363.28" y="469" font-size="19" textLength="57.16" lengthAdjust="spacingAndGlyphs" stroke="#fff" stroke-width="0.22">Study</text>
<text x="362.35" y="489" font-size="14.6" textLength="61.82" lengthAdjust="spacingAndGlyphs" stroke="#fff" stroke-width="0.12">5.7 x 3.5</text>
<text x="201.98" y="498" font-size="14.6" textLength="61.55" lengthAdjust="spacingAndGlyphs" stroke="#fff" stroke-width="0.12">Balcony</text>
<text x="272.98" y="611" font-size="19" textLength="90.08" lengthAdjust="spacingAndGlyphs" stroke="#fff" stroke-width="0.22">Bedroom</text>
<text x="285.41" y="631" font-size="14.6" textLength="64.48" lengthAdjust="spacingAndGlyphs" stroke="#fff" stroke-width="0.12">4.2 x 3.9</text>
<text x="311.63" y="747" font-size="19" textLength="37.25" lengthAdjust="spacingAndGlyphs" stroke="#fff" stroke-width="0.22">Ens</text>
<text x="314.52" y="858" font-size="19" textLength="37.36" lengthAdjust="spacingAndGlyphs" stroke="#fff" stroke-width="0.22">Ens</text>
<text x="154.71" y="920" font-size="19" textLength="77.53" lengthAdjust="spacingAndGlyphs" stroke="#fff" stroke-width="0.22">Balcony</text>
<text x="347.62" y="957" font-size="19" textLength="49.78" lengthAdjust="spacingAndGlyphs" stroke="#fff" stroke-width="0.22">Main</text>
<text x="327.67" y="976" font-size="19" textLength="90.5" lengthAdjust="spacingAndGlyphs" stroke="#fff" stroke-width="0.22">Bedroom</text>
<text x="341.35" y="993" font-size="14.6" textLength="61.86" lengthAdjust="spacingAndGlyphs" stroke="#fff" stroke-width="0.12">5.5 x 3.7</text>
<text x="331.81" y="1088" font-size="19" textLength="38.71" lengthAdjust="spacingAndGlyphs" stroke="#fff" stroke-width="0.22">WIR</text>
<text x="337.48" y="1127" font-size="15.2" textLength="26.76" lengthAdjust="spacingAndGlyphs" stroke="#fff" stroke-width="0.12">BIR</text>
<text x="536.96" y="571" font-size="19" textLength="52.49" lengthAdjust="spacingAndGlyphs" stroke="#fff" stroke-width="0.22">Entry</text>
<text x="661.91" y="514" font-size="19" textLength="76.68" lengthAdjust="spacingAndGlyphs" stroke="#fff" stroke-width="0.22">Kitchen</text>
<text x="649.21" y="597" font-size="19" textLength="42.5" lengthAdjust="spacingAndGlyphs" stroke="#fff" stroke-width="0.22">Pwd</text>
<text x="772.24" y="630" font-size="19" textLength="45.9" lengthAdjust="spacingAndGlyphs" stroke="#fff" stroke-width="0.22">L'dry</text>
<text x="680.65" y="836" font-size="20.4" textLength="80.67" lengthAdjust="spacingAndGlyphs" stroke="#fff" stroke-width="0.22">Storage</text>
<text x="638.57" y="880" font-size="20.4" textLength="165.26" lengthAdjust="spacingAndGlyphs" stroke="#fff" stroke-width="0.22">(Not In Position)</text>
<text x="638.57" y="1131" font-size="20.4" textLength="165.26" lengthAdjust="spacingAndGlyphs" stroke="#fff" stroke-width="0.22">(Not In Position)</text>
<text x="643.84" y="994" font-size="20.4" textLength="36.84" lengthAdjust="spacingAndGlyphs" stroke="#fff" stroke-width="0.22">Car</text>
<text x="630.05" y="1010" font-size="20.4" textLength="65.37" lengthAdjust="spacingAndGlyphs" stroke="#fff" stroke-width="0.22">Space</text>
<text x="760.74" y="994" font-size="20.4" textLength="36.84" lengthAdjust="spacingAndGlyphs" stroke="#fff" stroke-width="0.22">Car</text>
<text x="746.85" y="1010" font-size="20.4" textLength="65.37" lengthAdjust="spacingAndGlyphs" stroke="#fff" stroke-width="0.22">Space</text>
<text x="507.75" y="410" font-size="15.5" textLength="12.09" lengthAdjust="spacingAndGlyphs" stroke="#fff" stroke-width="0.12">C</text>
<text x="507.75" y="518" font-size="15.5" textLength="12.09" lengthAdjust="spacingAndGlyphs" stroke="#fff" stroke-width="0.12">C</text>
<text x="622.25" y="412" font-size="15.5" textLength="12.09" lengthAdjust="spacingAndGlyphs" stroke="#fff" stroke-width="0.12">C</text>
<text x="624.75" y="435" font-size="15.5" textLength="12.09" lengthAdjust="spacingAndGlyphs" stroke="#fff" stroke-width="0.12">C</text>
<text x="624.75" y="531" font-size="15.5" textLength="12.09" lengthAdjust="spacingAndGlyphs" stroke="#fff" stroke-width="0.12">C</text>
<text x="646.45" y="551" font-size="15.5" textLength="12.09" lengthAdjust="spacingAndGlyphs" stroke="#fff" stroke-width="0.12">C</text>
<text x="411.65" y="756" font-size="15.5" textLength="12.09" lengthAdjust="spacingAndGlyphs" stroke="#fff" stroke-width="0.12">C</text>
<text x="792.35" y="578" font-size="15.5" textLength="12.09" lengthAdjust="spacingAndGlyphs" stroke="#fff" stroke-width="0.12">C</text>
<text x="728.05" y="655" font-size="15.5" textLength="12.09" lengthAdjust="spacingAndGlyphs" stroke="#fff" stroke-width="0.12">C</text>
<text x="748.95" y="678" font-size="15.5" textLength="12.09" lengthAdjust="spacingAndGlyphs" stroke="#fff" stroke-width="0.12">C</text>
<text x="823.25" y="678" font-size="15.5" textLength="12.09" lengthAdjust="spacingAndGlyphs" stroke="#fff" stroke-width="0.12">C</text>
<text x="849.95" y="634" font-size="15.5" textLength="12.09" lengthAdjust="spacingAndGlyphs" stroke="#fff" stroke-width="0.12">C</text>
<text x="849.95" y="658" font-size="15.5" textLength="12.09" lengthAdjust="spacingAndGlyphs" stroke="#fff" stroke-width="0.12">C</text>
<text x="625.64" y="475.2" font-size="15.8" textLength="10.12" lengthAdjust="spacingAndGlyphs" stroke="#fff" stroke-width="0.12">F</text>
<text x="670.65" y="548" font-size="9.8" textLength="17.84" lengthAdjust="spacingAndGlyphs">WO</text>
<text x="767.25" y="575" font-size="9.8" textLength="19.13" lengthAdjust="spacingAndGlyphs">WM</text>
<text x="763.01" y="497" font-size="9.8" textLength="18.02" lengthAdjust="spacingAndGlyphs">DW</text>
<text x="410.55" y="594.95" font-size="15.4" textLength="26.33" lengthAdjust="spacingAndGlyphs" transform="rotate(-90 424 594.95)" stroke="#fff" stroke-width="0.12">BIR</text>
<text x="208.9" y="1081.8" font-size="15.6" textLength="38.77" lengthAdjust="spacingAndGlyphs" transform="rotate(-90 229 1081.8)" stroke="#fff" stroke-width="0.12">Desk</text>
<text x="285.61" y="283.25" font-size="10.2" textLength="14.64" lengthAdjust="spacingAndGlyphs" transform="rotate(-90 293.1 283.25)">FP</text>
<text x="292.71" y="453.35" font-size="10.2" textLength="14.64" lengthAdjust="spacingAndGlyphs" transform="rotate(-90 300.2 453.35)">FP</text>
<text x="1006.79" y="67.1" font-size="22.5" textLength="21.74" lengthAdjust="spacingAndGlyphs" font-weight="bold" style="fill:#000" stroke="#000" stroke-width="1.4" stroke-linejoin="miter">N</text>
</svg>
</body>
</html>
